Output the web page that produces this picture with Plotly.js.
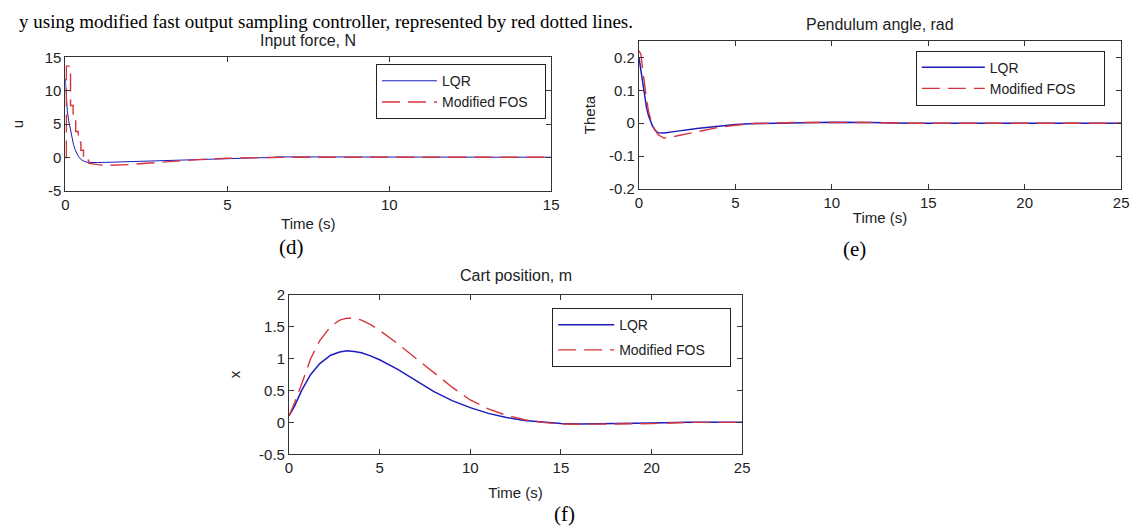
<!DOCTYPE html>
<html>
<head>
<meta charset="utf-8">
<script src="https://cdn.plot.ly/plotly-3.0.1.min.js"></script>
<style>html,body{margin:0;padding:0;background:#fff;}#chart{width:1141px;height:531px;}</style>
</head>
<body>
<div id="chart"></div>
<script>
// ---------- DATA ----------
// (d) Input force u, N
const tU_lqr = [0, 0.03, 0.06, 0.1, 0.15, 0.2, 0.25, 0.3, 0.4, 0.5, 0.6, 0.7, 0.85, 1, 1.5, 2, 2.5, 3, 3.5, 4, 4.5, 5, 5.5, 6, 6.4, 6.5, 7, 8, 10, 12, 15];
const u_lqr  = [11.8, 8.5, 7, 5.6, 4.2, 3.0, 2.0, 1.2, 0.2, -0.35, -0.6, -0.72, -0.75, -0.74, -0.68, -0.6, -0.5, -0.42, -0.33, -0.25, -0.18, -0.1, -0.05, -0.02, 0, 0.1, 0.1, 0.08, 0.06, 0.05, 0.05];
const tU_fos = [0, 0.03, 0.03, 0.16, 0.16, 0.24, 0.24, 0.32, 0.32, 0.4, 0.4, 0.48, 0.48, 0.56, 0.56, 0.64, 0.64, 0.72, 0.72, 1.0, 1.3, 1.6, 2, 2.5, 3, 3.5, 4, 4.5, 5, 6, 7, 10, 15];
const u_fos  = [0, 0, 13.7, 13.7, 7.8, 7.8, 5.6, 5.6, 3.9, 3.9, 2.3, 2.3, 1.1, 1.1, 0.2, 0.2, -0.4, -0.4, -0.85, -1.05, -1.15, -1.15, -1.05, -0.85, -0.65, -0.5, -0.35, -0.22, -0.1, 0, 0.05, 0.05, 0.05];

// (e) Pendulum angle theta, rad
const tTh = [0, 0.1, 0.2, 0.3, 0.4, 0.5, 0.6, 0.7, 0.85, 1.0, 1.3, 1.6, 2, 3, 4, 5, 6, 8, 10, 12, 14, 25];
const th_lqr = [0.2, 0.16, 0.115, 0.075, 0.045, 0.022, 0.005, -0.008, -0.022, -0.029, -0.03, -0.028, -0.024, -0.016, -0.009, -0.004, -0.001, 0.002, 0.003, 0.002, 0, 0];
const th_fos = [0.22, 0.21, 0.16, 0.11, 0.07, 0.035, 0.01, -0.006, -0.022, -0.035, -0.045, -0.044, -0.038, -0.025, -0.014, -0.006, -0.001, 0.002, 0.003, 0.002, 0, 0];

// (f) Cart position x, m
const tX = [0, 0.3, 0.7, 1.2, 1.7, 2.3, 2.8, 3.2, 3.6, 4, 4.5, 5, 6, 7, 8, 9, 10, 11, 12, 13, 14, 15, 16, 17, 18, 19, 20, 21, 22, 25];
const x_lqr = [0.1, 0.25, 0.5, 0.75, 0.92, 1.05, 1.1, 1.12, 1.11, 1.09, 1.04, 0.98, 0.83, 0.66, 0.48, 0.34, 0.23, 0.14, 0.075, 0.03, 0, -0.02, -0.025, -0.025, -0.02, -0.015, -0.01, 0, 0, 0];
const x_fos = [0.1, 0.3, 0.6, 1.0, 1.28, 1.5, 1.6, 1.63, 1.63, 1.6, 1.53, 1.44, 1.23, 1.0, 0.77, 0.55, 0.35, 0.21, 0.11, 0.04, 0, -0.025, -0.03, -0.03, -0.03, -0.03, -0.02, -0.01, 0, 0];

// tick labels
const uTicks = [-5, 0, 5, 10, 15];
const uTickText = ['-5', '0', '5', '10', '15'];
const thTicks = [-0.2, -0.1, 0, 0.1, 0.2];
const thTickText = ['-0.2', '-0.1', '0', '0.1', '0.2'];
const xTicks = [-0.5, 0, 0.5, 1, 1.5, 2];
const xTickText = ['-0.5', '0', '0.5', '1', '1.5', '2'];
const t15Ticks = [0, 5, 10, 15];
const t25Ticks = [0, 5, 10, 15, 20, 25];

const seriesNames = ['LQR', 'Modified FOS'];
const panelTitles = ['Input force, N', 'Pendulum angle, rad', 'Cart position, m'];
const panelLabels = ['(d)', '(e)', '(f)'];
const yTitles = ['u', 'Theta', 'x'];
const topLine = 'y using modified fast output sampling controller, represented by red dotted lines.';

// ---------- STYLE ----------
const W = 1141, H = 531;
const px = v => v / W;
const py = v => 1 - v / H;
const BLUE = '#1c1cc0', RED = '#d8343c', AX = '#333333';
const SANS = '"Liberation Sans", Arial, sans-serif';
const SERIF = '"Liberation Serif", "Times New Roman", serif';
const pad = n => '\u00a0'.repeat(n);

function lqr(x, y, xa, ya, leg, w) {
  return {x: x, y: y, xaxis: xa, yaxis: ya, mode: 'lines', name: seriesNames[0],
    line: {color: BLUE, width: w}, legend: leg, legendgroup: leg + 'a'};
}
function fos(x, y, xa, ya, leg, padN) {
  return {x: x, y: y, xaxis: xa, yaxis: ya, mode: 'lines', name: seriesNames[1] + pad(padN),
    line: {color: RED, width: 1.4, dash: '18px,8px'}, legend: leg, legendgroup: leg + 'b'};
}

const traces = [
  lqr(tU_lqr, u_lqr, 'x', 'y', 'legend', 1), fos(tU_fos, u_fos, 'x', 'y', 'legend', 3),
  lqr(tTh, th_lqr, 'x2', 'y2', 'legend2', 1.5), fos(tTh, th_fos, 'x2', 'y2', 'legend2', 6),
  lqr(tX, x_lqr, 'x3', 'y3', 'legend3', 1.5), fos(tX, x_fos, 'x3', 'y3', 'legend3', 5)
];

function axis(extra) {
  return Object.assign({
    showline: true, linecolor: AX, linewidth: 1, mirror: 'allticks',
    ticks: 'inside', ticklen: 5, tickcolor: AX, tickwidth: 1,
    showgrid: false, zeroline: false, automargin: true,
    tickfont: {family: SANS, size: 15, color: '#222'}, tickmode: 'array'
  }, extra);
}
function xt(std) { return {text: 'Time (s)', font: {family: SANS, size: 15, color: '#222'}, standoff: std}; }
function yt(i, std) { return {text: yTitles[i], font: {family: SANS, size: 15, color: '#222'}, standoff: std}; }

function legendBox(x, y, iw, gap) {
  return {x: px(x), y: py(y), xref: 'paper', yref: 'paper', xanchor: 'left', yanchor: 'top',
    bgcolor: '#ffffff', bordercolor: '#222', borderwidth: 1, itemwidth: iw,
    tracegroupgap: gap, font: {family: SANS, size: 14, color: '#222'}};
}

function note(text, x, y, font, xanchor, yanchor) {
  return {text: text, x: px(x), y: py(y), xref: 'paper', yref: 'paper', showarrow: false,
    xanchor: xanchor || 'center', yanchor: yanchor || 'middle', font: font};
}
const titleFont = {family: SANS, size: 16, color: '#222'};
const labelFont = {family: SERIF, size: 21, color: '#000'};

const layout = {
  width: W, height: H, margin: {l: 0, r: 0, t: 0, b: 0},
  paper_bgcolor: '#fff', plot_bgcolor: '#fff', showlegend: true,
  xaxis: axis({domain: [px(62), px(553)], range: [0, 15], tickvals: t15Ticks, anchor: 'y', title: xt(6)}),
  yaxis: axis({domain: [py(188), py(50)], range: [-5, 15], tickvals: uTicks, ticktext: uTickText, anchor: 'x', title: yt(0, 17)}),
  xaxis2: axis({domain: [px(641.7), px(1129)], range: [0, 25], tickvals: t25Ticks, anchor: 'y2', title: xt(2)}),
  yaxis2: axis({domain: [py(186), py(33)], range: [-0.2, 0.25], tickvals: thTicks, ticktext: thTickText, anchor: 'x2', title: yt(1, 9)}),
  xaxis3: axis({domain: [px(288), px(746)], range: [0, 25], tickvals: t25Ticks, anchor: 'y3', title: xt(12)}),
  yaxis3: axis({domain: [py(460), py(295)], range: [-0.5, 2], tickvals: xTicks, ticktext: xTickText, anchor: 'x3', title: yt(2, 14)}),
  legend: legendBox(376, 57, 55, 0),
  legend2: legendBox(921.5, 43, 63, 0),
  legend3: legendBox(554, 309, 56, 4),
  annotations: [
    note(panelTitles[0], 307.5, 33, titleFont),
    note(panelTitles[1], 885, 16, titleFont),
    note(panelTitles[2], 517, 275, titleFont),
    note(panelLabels[0], 291, 246, labelFont),
    note(panelLabels[1], 860, 248, labelFont),
    note(panelLabels[2], 566, 522, labelFont),
    note(topLine, 13, 0, {family: SERIF, size: 19, color: '#000'}, 'left', 'top')
  ]
};

Plotly.newPlot('chart', traces, layout, {displayModeBar: false, staticPlot: true});
</script>
</body>
</html>
